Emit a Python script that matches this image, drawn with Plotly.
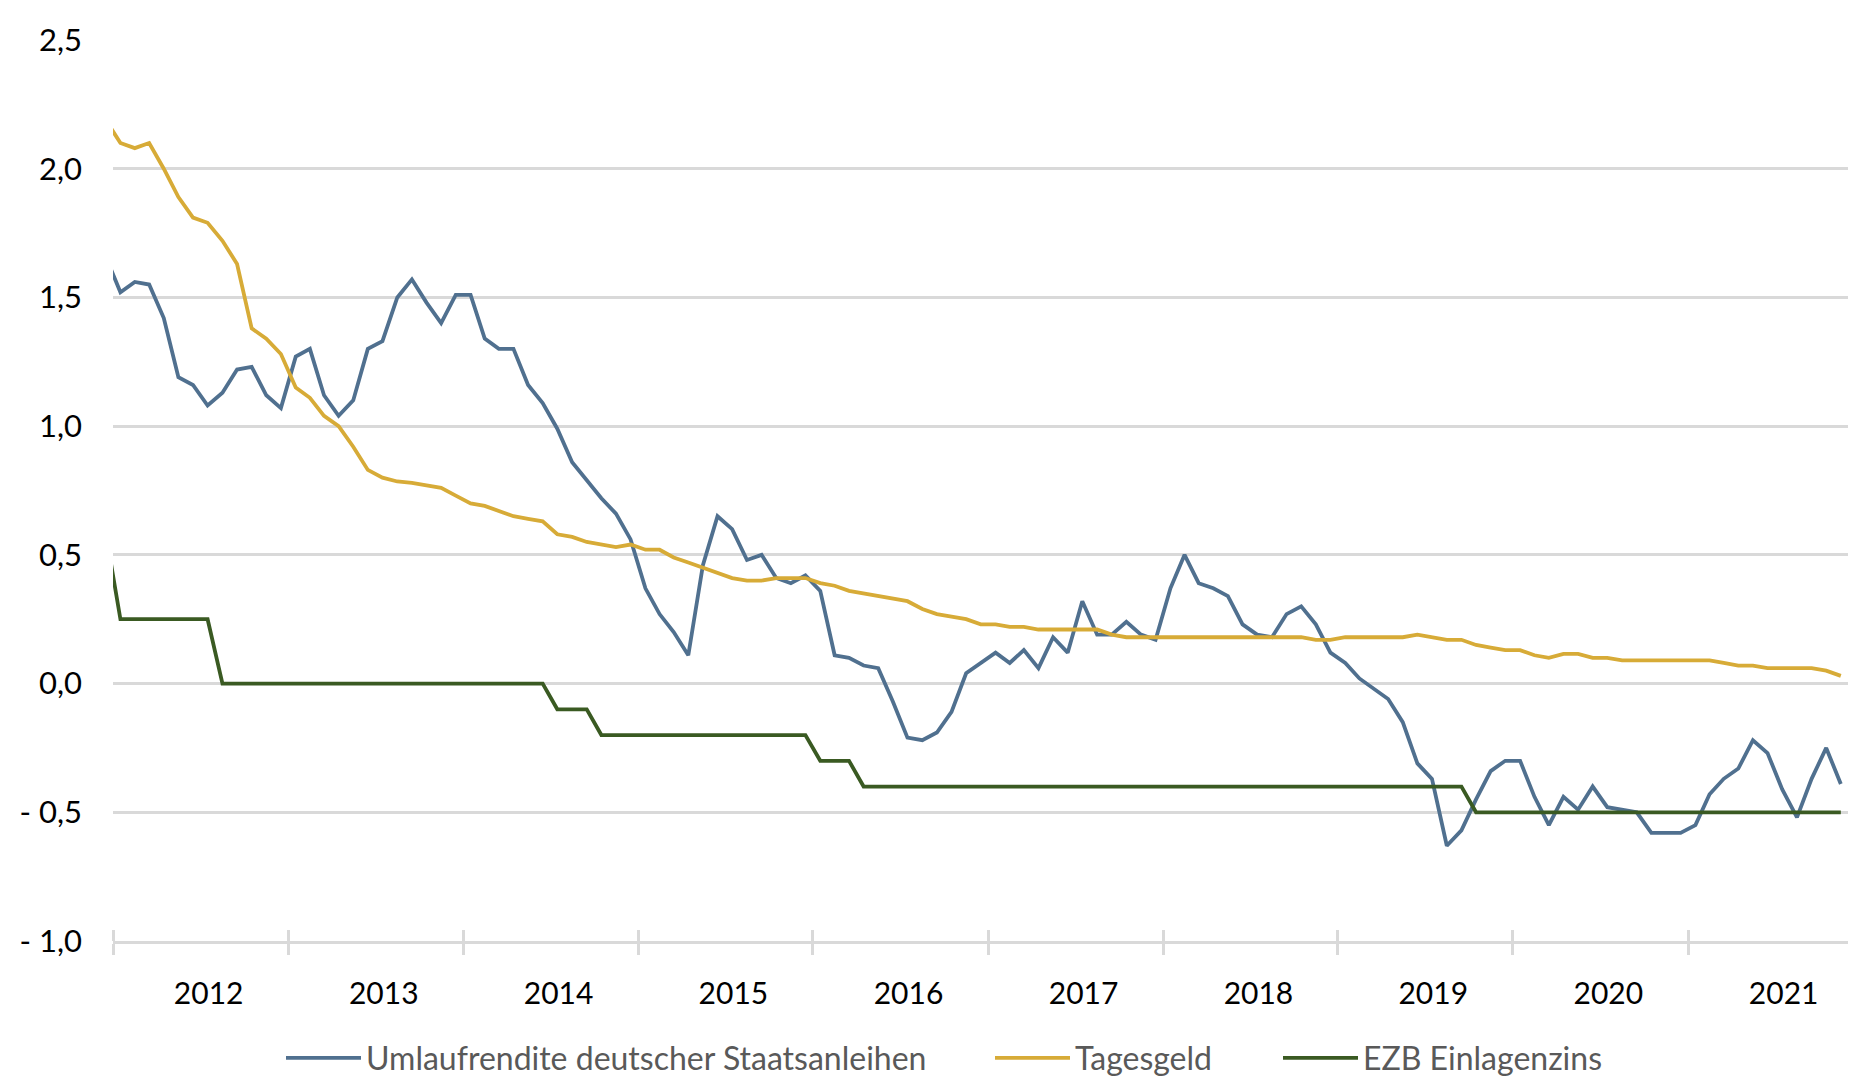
import pandas as pd
import plotly.graph_objects as go

# ---- data (monthly, Dec 2011 .. Nov 2021; Dec 2011 only feeds the clipped left edge) ----
month_start = "2011-12-01"
month_end = "2021-11-01"

umlaufrendite = [
    1.66,
    1.52, 1.56, 1.55, 1.42, 1.19, 1.16, 1.08, 1.13, 1.22, 1.23, 1.12, 1.07,        # 2012
    1.27, 1.30, 1.12, 1.04, 1.10, 1.30, 1.33, 1.50, 1.57, 1.48, 1.40, 1.51,        # 2013
    1.51, 1.34, 1.30, 1.30, 1.16, 1.09, 0.99, 0.86, 0.79, 0.72, 0.66, 0.56,        # 2014
    0.37, 0.27, 0.20, 0.11, 0.46, 0.65, 0.60, 0.48, 0.50, 0.41, 0.39, 0.42,        # 2015
    0.36, 0.11, 0.10, 0.07, 0.06, -0.07, -0.21, -0.22, -0.19, -0.11, 0.04, 0.08,   # 2016
    0.12, 0.08, 0.13, 0.06, 0.18, 0.12, 0.32, 0.19, 0.19, 0.24, 0.19, 0.17,        # 2017
    0.37, 0.50, 0.39, 0.37, 0.34, 0.23, 0.19, 0.18, 0.27, 0.30, 0.23, 0.12,        # 2018
    0.08, 0.02, -0.02, -0.06, -0.15, -0.31, -0.37, -0.63, -0.57, -0.45, -0.34, -0.30,  # 2019
    -0.30, -0.44, -0.55, -0.44, -0.49, -0.40, -0.48, -0.49, -0.50, -0.58, -0.58, -0.58,  # 2020
    -0.55, -0.43, -0.37, -0.33, -0.22, -0.27, -0.41, -0.52, -0.37, -0.25, -0.39,  # 2021
]

tagesgeld = [
    2.19,
    2.10, 2.08, 2.10, 2.00, 1.89, 1.81, 1.79, 1.72, 1.63, 1.38, 1.34, 1.28,        # 2012
    1.15, 1.11, 1.04, 1.00, 0.92, 0.83, 0.80, 0.785, 0.78, 0.77, 0.76, 0.73,       # 2013
    0.70, 0.69, 0.67, 0.65, 0.64, 0.63, 0.58, 0.57, 0.55, 0.54, 0.53, 0.54,        # 2014
    0.52, 0.52, 0.49, 0.47, 0.45, 0.43, 0.41, 0.40, 0.40, 0.41, 0.41, 0.41,        # 2015
    0.39, 0.38, 0.36, 0.35, 0.34, 0.33, 0.32, 0.29, 0.27, 0.26, 0.25, 0.23,        # 2016
    0.23, 0.22, 0.22, 0.21, 0.21, 0.21, 0.21, 0.21, 0.19, 0.18, 0.18, 0.18,        # 2017
    0.18, 0.18, 0.18, 0.18, 0.18, 0.18, 0.18, 0.18, 0.18, 0.18, 0.17, 0.17,        # 2018
    0.18, 0.18, 0.18, 0.18, 0.18, 0.19, 0.18, 0.17, 0.17, 0.15, 0.14, 0.13,        # 2019
    0.13, 0.11, 0.10, 0.115, 0.115, 0.10, 0.10, 0.09, 0.09, 0.09, 0.09, 0.09,      # 2020
    0.09, 0.09, 0.08, 0.07, 0.07, 0.06, 0.06, 0.06, 0.06, 0.05, 0.03,             # 2021
]

ezb_einlagenzins = [
    0.59,
    0.25, 0.25, 0.25, 0.25, 0.25, 0.25, 0.25, 0.0, 0.0, 0.0, 0.0, 0.0,             # 2012
    0.0, 0.0, 0.0, 0.0, 0.0, 0.0, 0.0, 0.0, 0.0, 0.0, 0.0, 0.0,                    # 2013
    0.0, 0.0, 0.0, 0.0, 0.0, 0.0, -0.1, -0.1, -0.1, -0.2, -0.2, -0.2,              # 2014
    -0.2, -0.2, -0.2, -0.2, -0.2, -0.2, -0.2, -0.2, -0.2, -0.2, -0.2, -0.2,        # 2015
    -0.3, -0.3, -0.3, -0.4, -0.4, -0.4, -0.4, -0.4, -0.4, -0.4, -0.4, -0.4,        # 2016
    -0.4, -0.4, -0.4, -0.4, -0.4, -0.4, -0.4, -0.4, -0.4, -0.4, -0.4, -0.4,        # 2017
    -0.4, -0.4, -0.4, -0.4, -0.4, -0.4, -0.4, -0.4, -0.4, -0.4, -0.4, -0.4,        # 2018
    -0.4, -0.4, -0.4, -0.4, -0.4, -0.4, -0.4, -0.4, -0.4, -0.5, -0.5, -0.5,        # 2019
    -0.5, -0.5, -0.5, -0.5, -0.5, -0.5, -0.5, -0.5, -0.5, -0.5, -0.5, -0.5,        # 2020
    -0.5, -0.5, -0.5, -0.5, -0.5, -0.5, -0.5, -0.5, -0.5, -0.5, -0.5,              # 2021
]

series_names = ["Umlaufrendite deutscher Staatsanleihen", "Tagesgeld", "EZB Einlagenzins"]
series_colors = ["#50708F", "#D7AB37", "#3A5A22"]

y_tickvals = [-1.0, -0.5, 0.0, 0.5, 1.0, 1.5, 2.0, 2.5]
y_ticktext = ["- 1,0", "- 0,5", "0,0", "0,5", "1,0", "1,5", "2,0", "2,5"]

# ---- month positions: centre of each month (Excel date axis, between tick marks) ----
starts = pd.date_range(month_start, month_end, freq="MS")
nexts = starts + pd.offsets.MonthBegin(1)
x_dates = starts + (nexts - starts) / 2

FONT = "Lato"
GRID = "#D9D9D9"
W, H = 1856, 1088

legend_ids = ["legend", "legend2", "legend3"]
legend_left_px = [273, 982, 1270]   # left edge of each legend entry (px)
legend_y = 1 - 1050 / H

fig = go.Figure()
for name, vals, col, lid in zip(series_names, [umlaufrendite, tagesgeld, ezb_einlagenzins],
                                series_colors, legend_ids):
    fig.add_trace(go.Scatter(
        x=x_dates, y=vals, name=name, mode="lines",
        line=dict(color=col, width=3.8),
        hoverinfo="skip", legend=lid,
    ))

legend_common = dict(
    orientation="h", xref="container", yref="container",
    xanchor="left", yanchor="middle", y=legend_y,
    font=dict(family=FONT, size=32, color="#595959"),
    itemwidth=75, bgcolor="rgba(0,0,0,0)", borderwidth=0,
)

fig.update_layout(
    width=W, height=H,
    margin=dict(l=105, r=16, t=32, b=155),
    paper_bgcolor="white", plot_bgcolor="white",
    font=dict(family=FONT, size=30, color="#000000"),
    showlegend=True,
    legend=dict(x=legend_left_px[0] / W, **legend_common),
    legend2=dict(x=legend_left_px[1] / W, **legend_common),
    legend3=dict(x=legend_left_px[2] / W, **legend_common),
    xaxis=dict(
        type="date",
        range=["2012-01-01", "2021-12-01"],
        tick0="2012-01-01", dtick="M12",
        tickformat="%Y",
        ticklabelmode="period",
        ticklabelshift=8,
        ticklabelstandoff=13,
        ticks="outside", ticklen=11, tickwidth=2.5, tickcolor=GRID,
        minor=dict(ticks="inside", ticklen=11, tickwidth=2.5, tickcolor=GRID,
                   tick0="2012-01-01", dtick="M12", showgrid=False),
        showgrid=False, zeroline=False,
        showline=True, linecolor=GRID, linewidth=2.5,
        tickfont=dict(family=FONT, size=30, color="#000000"),
    ),
    yaxis=dict(
        range=[-1.0, 2.5],
        tickvals=y_tickvals, ticktext=y_ticktext,
        showgrid=True, gridcolor=GRID, gridwidth=2.5,
        zeroline=False, showline=False, ticks="",
        ticklabelstandoff=30,
        tickfont=dict(family=FONT, size=31, color="#000000"),
    ),
)

fig.write_html("out.html")
